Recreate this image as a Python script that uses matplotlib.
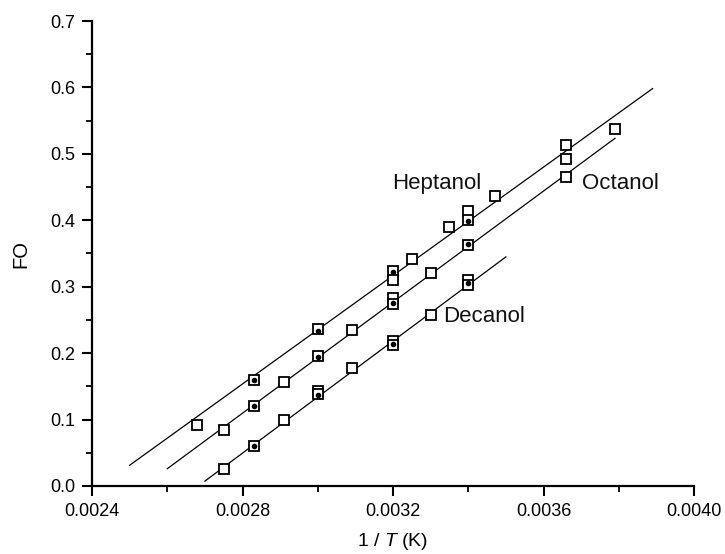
import matplotlib
matplotlib.use("Agg")
import matplotlib.pyplot as plt
import numpy as np

plt.rcParams['font.family'] = ['Liberation Sans', 'DejaVu Sans']
plt.rcParams['mathtext.fontset'] = 'custom'
plt.rcParams['mathtext.it'] = 'Liberation Sans:italic'
plt.rcParams['mathtext.rm'] = 'Liberation Sans'

# ---- data ----
hept_x = [0.00268, 0.00283, 0.00300, 0.00320, 0.00320, 0.00325, 0.00335, 0.00340, 0.00340, 0.00347, 0.00366, 0.00366]
hept_y = [0.092, 0.160, 0.236, 0.324, 0.310, 0.341, 0.390, 0.414, 0.400, 0.437, 0.513, 0.493]

oct_x = [0.00275, 0.00283, 0.00291, 0.00300, 0.00309, 0.00320, 0.00320, 0.00330, 0.00340, 0.00366, 0.00379]
oct_y = [0.084, 0.120, 0.157, 0.195, 0.235, 0.283, 0.274, 0.320, 0.363, 0.465, 0.538]

dec_x = [0.00275, 0.00283, 0.00291, 0.00300, 0.00300, 0.00309, 0.00320, 0.00320, 0.00330, 0.00340, 0.00340]
dec_y = [0.025, 0.060, 0.099, 0.143, 0.138, 0.177, 0.218, 0.213, 0.257, 0.310, 0.302]

# small filled dots visible inside some squares
dot_x = [0.00283, 0.00283, 0.00283, 0.00300, 0.00300, 0.00300, 0.00320, 0.00320, 0.00320, 0.00340, 0.00340, 0.00340]
dot_y = [0.160, 0.120, 0.060, 0.234, 0.194, 0.137, 0.322, 0.275, 0.214, 0.399, 0.364, 0.305]

# fitted lines: slope, intercept, x-range
fit_names = ['Heptanol', 'Octanol', 'Decanol']
fit_slope = [408.0, 418.0, 422.0]
fit_intercept = [-0.9888, -1.0608, -1.1321]
fit_xmin = [0.00250, 0.00260, 0.00270]
fit_xmax = [0.00389, 0.00379, 0.00350]

label_text = ['Heptanol', 'Octanol', 'Decanol']
label_x = [0.003198, 0.003703, 0.003334]
label_y = [0.456, 0.456, 0.255]

x_ticks = [0.0024, 0.0028, 0.0032, 0.0036, 0.0040]
x_ticklabels = ['0.0024', '0.0028', '0.0032', '0.0036', '0.0040']
y_ticks = [0.0, 0.1, 0.2, 0.3, 0.4, 0.5, 0.6, 0.7]
y_ticklabels = ['0.0', '0.1', '0.2', '0.3', '0.4', '0.5', '0.6', '0.7']

# ---- figure ----
fig = plt.figure(figsize=(7.25, 5.54), dpi=100)
ax = fig.add_axes([92/725, 68/554, (694-92)/725, (486-21)/554])

for s, b, x0, x1 in zip(fit_slope, fit_intercept, fit_xmin, fit_xmax):
    xs = np.array([x0, x1])
    ax.plot(xs, s*xs + b, color='black', lw=0.9, zorder=2)

for xs, ys in [(hept_x, hept_y), (oct_x, oct_y), (dec_x, dec_y)]:
    ax.plot(xs, ys, linestyle='none', marker='s', markersize=7.5,
            markerfacecolor='white', markeredgecolor='black', markeredgewidth=1.3, zorder=3)

ax.plot(dot_x, dot_y, linestyle='none', marker='o', markersize=3.0,
        color='black', zorder=4)

for t, x, y in zip(label_text, label_x, label_y):
    ax.text(x, y, t, fontsize=16, ha='left', va='center', color='#111111', zorder=5)

ax.set_xlim(0.0024, 0.0040)
ax.set_ylim(0.0, 0.7)
ax.set_xticks(x_ticks)
ax.set_xticklabels(x_ticklabels)
ax.set_yticks(y_ticks)
ax.set_yticklabels(y_ticklabels)
ax.set_xticks(np.arange(0.0026, 0.0040, 0.0004), minor=True)
ax.set_yticks(np.arange(0.05, 0.7, 0.1), minor=True)

for side in ['top', 'right']:
    ax.spines[side].set_visible(False)
for side in ['left', 'bottom']:
    ax.spines[side].set_linewidth(1.6)

ax.tick_params(which='major', direction='out', length=7, width=1.5, labelsize=13, pad=5, colors='black')
ax.tick_params(which='minor', direction='out', length=4, width=1.3)

ax.set_ylabel('FO', fontsize=14.5, labelpad=14)
ax.set_xlabel(r'1 / $\mathit{T}$ (K)', fontsize=14, labelpad=8)

fig.savefig('out.png', dpi=100)
